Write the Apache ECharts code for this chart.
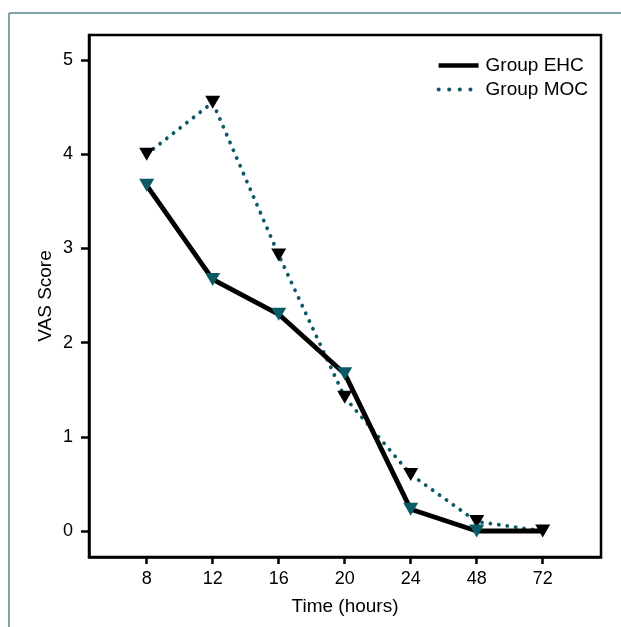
<!DOCTYPE html>
<html><head><meta charset="utf-8">
<script src="https://cdn.jsdelivr.net/npm/echarts@6/dist/echarts.min.js"></script>
<style>html,body{margin:0;padding:0;background:#fff}#c{width:621px;height:627px}</style>
</head><body><div id="c"></div>
<script>
var categories = ['8','12','16','20','24','48','72'];
var ehcValues = [3.67, 2.67, 2.30, 1.67, 0.23, 0.00, 0.00];
var mocValues = [4.00, 4.55, 2.93, 1.42, 0.60, 0.10, 0.00];
var yTicks = [0, 1, 2, 3, 4, 5];

var teal = '#0b5a66';
var font = 'Liberation Sans, Arial, sans-serif';
var idx = categories.map(function(_, i){ return i; });

var chart = echarts.init(document.getElementById('c'));
chart.setOption({
  animation: false,
  backgroundColor: '#fff',
  graphic: [
    {type:'line', shape:{x1:9, y1:13, x2:621, y2:13}, style:{stroke:'#7fa3a8', lineWidth:2}},
    {type:'line', shape:{x1:9, y1:13, x2:9, y2:627}, style:{stroke:'#7fa3a8', lineWidth:2}}
  ],
  grid: {left: 89, top: 35, right: 20, bottom: 70, show: true, borderColor: '#000', borderWidth: 2.5},
  legend: {
    right: 28, top: 51, orient: 'vertical', itemGap: 5, itemWidth: 40, itemHeight: 17,
    textStyle: {fontFamily: font, fontSize: 19, color: '#000', padding: [0, 0, 0, 2]},
    itemStyle: {opacity: 0},
    data: [
      {name: 'Group EHC', lineStyle: {width: 4.5, color: '#000'}},
      {name: 'Group MOC', lineStyle: {width: 4, color: teal, type: [0.1, 10.5], cap: 'round'}}
    ]
  },
  xAxis: {
    type: 'value', min: -0.874, max: 6.883,
    name: 'Time (hours)', nameLocation: 'middle', nameGap: 40, nameMoveOverlap: false,
    nameTextStyle: {fontFamily: font, fontSize: 19, color: '#000'},
    axisLine: {onZero: false, lineStyle: {color: '#000', width: 2.5}},
    axisTick: {show: true, length: 7, lineStyle: {color: '#000', width: 2.5}, customValues: idx},
    axisLabel: {customValues: idx, margin: 13, fontFamily: font, fontSize: 18, color: '#000',
      formatter: function(v){ return categories[Math.round(v)]; }},
    splitLine: {show: false}
  },
  yAxis: {
    type: 'value', min: -0.276, max: 5.265,
    name: 'VAS Score', nameLocation: 'middle', nameGap: 34, nameRotate: 90, nameMoveOverlap: false,
    nameTextStyle: {fontFamily: font, fontSize: 19, color: '#000'},
    axisLine: {onZero: false, lineStyle: {color: '#000', width: 2.5}},
    axisTick: {show: true, length: 8, lineStyle: {color: '#000', width: 2.5}, customValues: yTicks},
    axisLabel: {customValues: yTicks, margin: 16, fontFamily: font, fontSize: 18, color: '#000'},
    splitLine: {show: false}
  },
  series: [
    {
      name: 'Group MOC', type: 'line', z: 2,
      data: mocValues.map(function(v, i){ return [i, v]; }),
      symbol: 'triangle', symbolRotate: 180, symbolSize: [15, 13],
      itemStyle: {color: '#000'},
      lineStyle: {color: teal, width: 3.8, type: [0.1, 8.4], cap: 'round'}
    },
    {
      name: 'Group EHC', type: 'line', z: 3,
      data: ehcValues.map(function(v, i){ return i === ehcValues.length - 1 ? {value: [i, v], symbol: 'none'} : [i, v]; }),
      symbol: 'triangle', symbolRotate: 180, symbolSize: [15, 13],
      itemStyle: {color: teal},
      lineStyle: {color: '#000', width: 4.8}
    }
  ]
});
</script></body></html>
